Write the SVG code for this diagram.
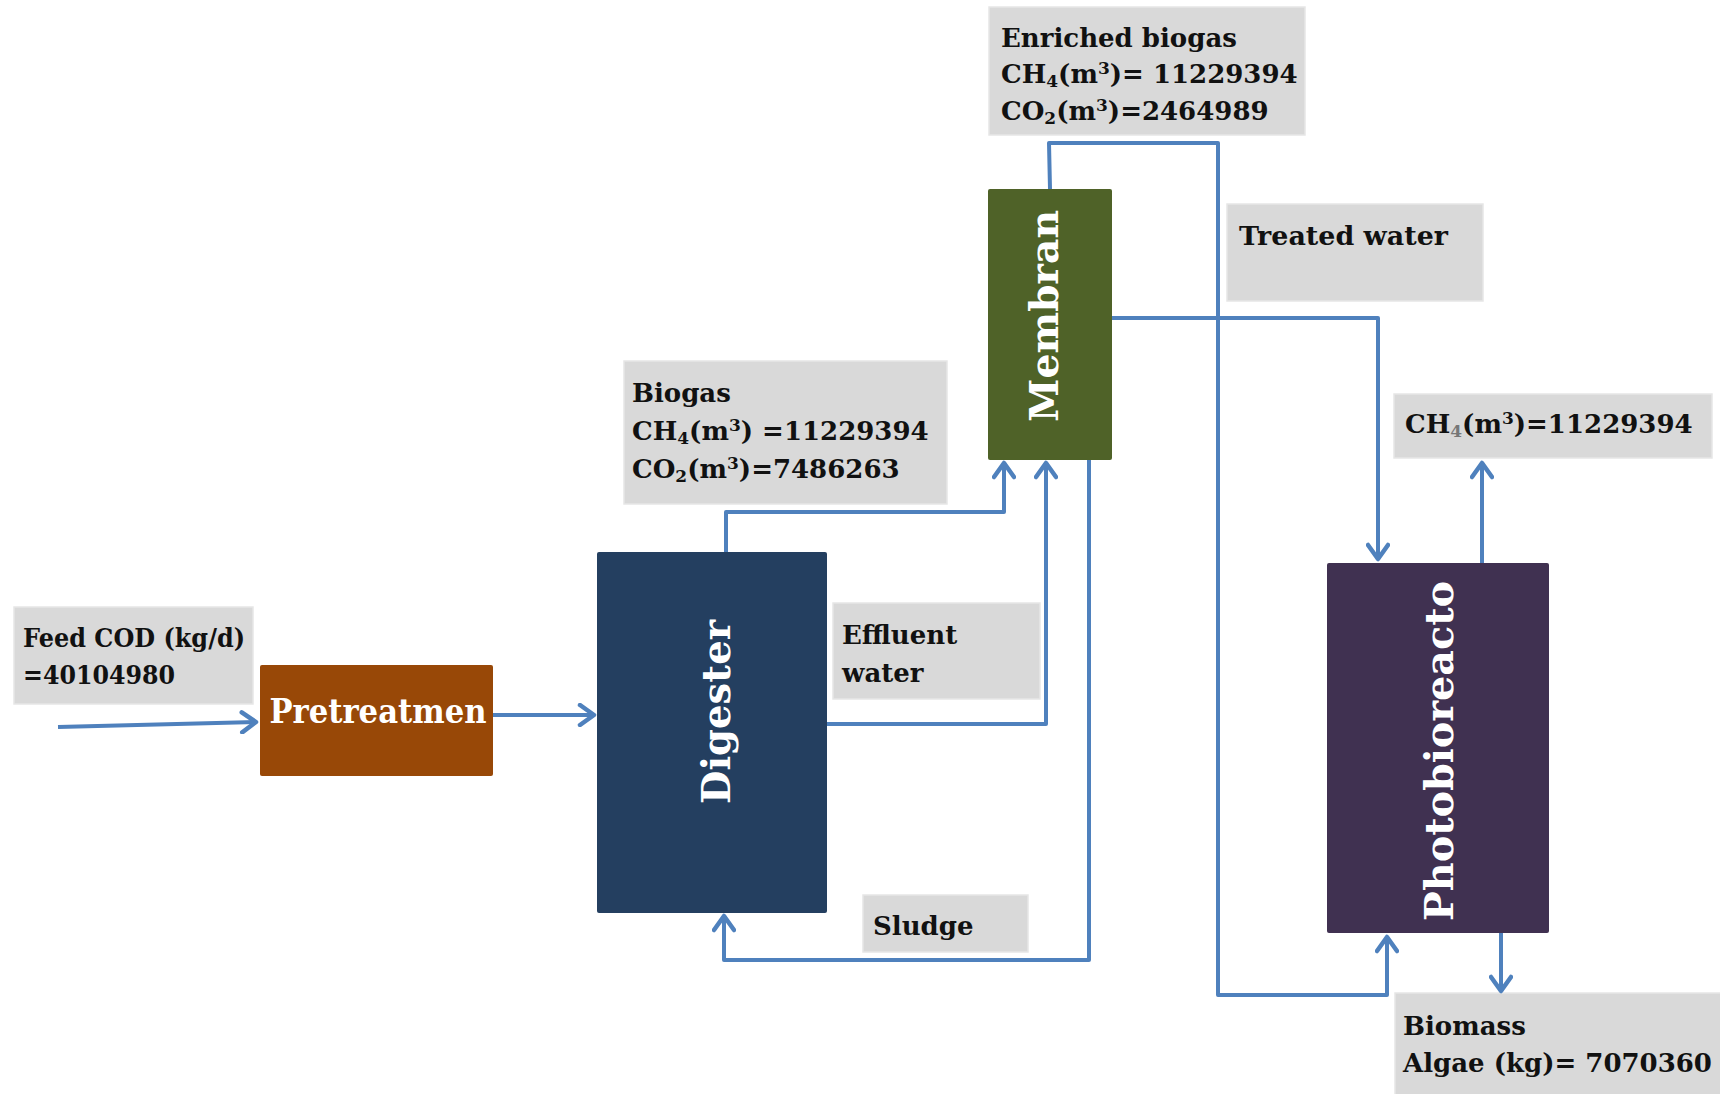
<svg xmlns="http://www.w3.org/2000/svg" width="1720" height="1094" viewBox="0 0 1720 1094">
<style>
.lbl{fill:#D9D9D9;stroke:#E6E6E6;stroke-width:1.5}
.lt{font-family:"DejaVu Serif","Liberation Serif",serif;font-weight:bold;font-size:26px;fill:#111}
.sub{font-size:17px}
.nt{font-family:"DejaVu Serif","Liberation Serif",serif;font-weight:bold;fill:#fff}
.con{fill:none;stroke:#4F81BD;stroke-width:4;stroke-linejoin:round}
</style>
<defs>
<marker id="ah" markerUnits="userSpaceOnUse" viewBox="0 0 20 24" refX="18" refY="12" markerWidth="20" markerHeight="24" orient="auto">
<path d="M3,2 L17,12 L3,22" fill="none" stroke="#4F81BD" stroke-width="4.5" stroke-linecap="round" stroke-linejoin="round"/>
</marker>
</defs>
<rect width="1720" height="1094" fill="#fff"/>

<g id="label-feed">
<rect class="lbl" x="14" y="607" width="239" height="97"/>
<text class="lt" x="23" y="647" textLength="222" lengthAdjust="spacingAndGlyphs">Feed COD (kg/d)</text>
<text class="lt" x="23" y="684" textLength="152" lengthAdjust="spacingAndGlyphs">=40104980</text>
</g>
<g id="label-biogas">
<rect class="lbl" x="624" y="361" width="323" height="143"/>
<text class="lt" x="632" y="402">Biogas</text>
<text class="lt" x="632" y="440">CH<tspan class="sub" dy="4">4</tspan><tspan dy="-4">(m</tspan><tspan class="sub" dy="-9">3</tspan><tspan dy="9">) =11229394</tspan></text>
<text class="lt" x="632" y="478">CO<tspan class="sub" dy="4">2</tspan><tspan dy="-4">(m</tspan><tspan class="sub" dy="-9">3</tspan><tspan dy="9">)=7486263</tspan></text>
</g>
<g id="label-enriched">
<rect class="lbl" x="989" y="7" width="316" height="128"/>
<text class="lt" x="1001" y="47">Enriched biogas</text>
<text class="lt" x="1001" y="83">CH<tspan class="sub" dy="4">4</tspan><tspan dy="-4">(m</tspan><tspan class="sub" dy="-9">3</tspan><tspan dy="9">)= 11229394</tspan></text>
<text class="lt" x="1001" y="120">CO<tspan class="sub" dy="4">2</tspan><tspan dy="-4">(m</tspan><tspan class="sub" dy="-9">3</tspan><tspan dy="9">)=2464989</tspan></text>
</g>
<g id="label-effluent">
<rect class="lbl" x="833" y="603" width="207" height="96"/>
<text class="lt" x="842" y="644">Effluent</text>
<text class="lt" x="842" y="682">water</text>
</g>
<g id="label-treated">
<rect class="lbl" x="1227" y="204" width="256" height="97"/>
<text class="lt" x="1239" y="245" textLength="209" lengthAdjust="spacingAndGlyphs">Treated water</text>
</g>
<g id="label-sludge">
<rect class="lbl" x="863" y="895" width="165" height="57"/>
<text class="lt" x="873" y="935">Sludge</text>
</g>
<g id="label-ch4">
<rect class="lbl" x="1394" y="394" width="318" height="64"/>
<text class="lt" x="1405" y="433">CH<tspan class="sub" dy="4" fill="#777">4</tspan><tspan dy="-4">(m</tspan><tspan class="sub" dy="-9">3</tspan><tspan dy="9">)=11229394</tspan></text>
</g>
<g id="label-biomass">
<rect class="lbl" x="1395" y="993" width="330" height="110"/>
<text class="lt" x="1403" y="1035">Biomass</text>
<text class="lt" x="1403" y="1072">Algae (kg)= 7070360</text>
</g>

<g id="connectors">
<path class="con" d="M58,727 L257,722" marker-end="url(#ah)"/>
<path class="con" d="M493,715 L595,715" marker-end="url(#ah)"/>
<path class="con" d="M726,552 L726,512 L1004,512 L1004,462" marker-end="url(#ah)"/>
<path class="con" d="M827,724 L1046,724 L1046,462" marker-end="url(#ah)"/>
<path class="con" d="M1089,460 L1089,960 L724,960 L724,915" marker-end="url(#ah)"/>
<path class="con" d="M1050,189 L1049,143 L1218,143 L1218,995 L1387,995 L1387,936" marker-end="url(#ah)"/>
<path class="con" d="M1112,318 L1378,318 L1378,560" marker-end="url(#ah)"/>
<path class="con" d="M1482,563 L1482,462" marker-end="url(#ah)"/>
<path class="con" d="M1501,933 L1501,992" marker-end="url(#ah)"/>
</g>

<g id="node-pretreatment">
<rect x="260" y="665" width="233" height="111" rx="2" fill="#984807"/>
<text class="nt" x="378" y="723" font-size="33" text-anchor="middle" textLength="217" lengthAdjust="spacingAndGlyphs">Pretreatmen</text>
</g>
<g id="node-digester">
<rect x="597" y="552" width="230" height="361" rx="2" fill="#243F60"/>
<text class="nt" transform="translate(730,712) rotate(-90)" font-size="40" text-anchor="middle" textLength="184" lengthAdjust="spacingAndGlyphs">Digester</text>
</g>
<g id="node-membrane">
<rect x="988" y="189" width="124" height="271" rx="2" fill="#4F6228"/>
<text class="nt" transform="translate(1058,316) rotate(-90)" font-size="40" text-anchor="middle" textLength="212" lengthAdjust="spacingAndGlyphs">Membran</text>
</g>
<g id="node-photobioreactor">
<rect x="1327" y="563" width="222" height="370" rx="2" fill="#403151"/>
<text class="nt" transform="translate(1453,751) rotate(-90)" font-size="40" text-anchor="middle" textLength="340" lengthAdjust="spacingAndGlyphs">Photobioreacto</text>
</g>
</svg>
